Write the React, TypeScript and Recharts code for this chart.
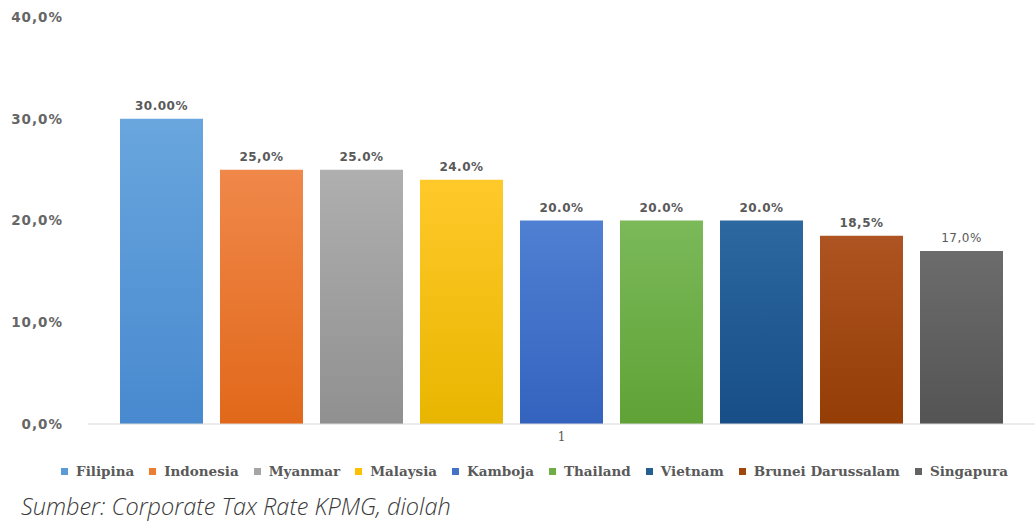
import React from 'react';
import { BarChart, Bar, XAxis, YAxis, Legend, LabelList } from 'recharts';

const categories = ['1'];
const countries = ['Filipina', 'Indonesia', 'Myanmar', 'Malaysia', 'Kamboja', 'Thailand', 'Vietnam', 'Brunei Darussalam', 'Singapura'];
const rates = [30, 25, 25, 24, 20, 20, 20, 18.5, 17];
const rateLabels = ['30.00%', '25,0%', '25.0%', '24.0%', '20.0%', '20.0%', '20.0%', '18,5%', '17,0%'];
const yTicks = [0, 10, 20, 30, 40];

const topColors = ['#69a6de', '#f0884a', '#afafaf', '#ffc92a', '#4f80d2', '#7bb959', '#2d68a0', '#ae5422', '#6c6c6c'];
const bottomColors = ['#4889cf', '#e1681a', '#909090', '#e8b600', '#3463bf', '#60a236', '#174e87', '#943d05', '#545454'];
const legendColors = ['#5b9bd5', '#ed7d31', '#a5a5a5', '#ffc000', '#4472c4', '#70ad47', '#255e91', '#9e480e', '#636363'];

const data = categories.map((name) => {
  const row: Record<string, string | number> = { name };
  countries.forEach((c, i) => {
    row[c] = rates[i];
  });
  return row;
});

const fmtTick = (v: number) => v.toFixed(1).replace('.', ',') + '%';

const renderLegend = () => (
  <div
    style={{
      height: 36,
      boxSizing: 'border-box',
      paddingTop: 7,
      paddingLeft: 34,
      display: 'flex',
      justifyContent: 'center',
      alignItems: 'flex-start',
      whiteSpace: 'nowrap',
    }}
  >
    {countries.map((c, i) => (
      <span key={c} style={{ display: 'inline-flex', alignItems: 'center', marginRight: i === countries.length - 1 ? 0 : 15 }}>
        <span style={{ display: 'inline-block', width: 7, height: 7, background: legendColors[i], marginRight: 8 }} />
        <span
          style={{
            color: '#595959',
            fontFamily: 'DejaVu Serif',
            fontWeight: 'bold',
            fontSize: 13.5,
            letterSpacing: 0,
            lineHeight: '20px',
          }}
        >
          {c}
        </span>
      </span>
    ))}
  </div>
);

export default function App() {
  return (
    <div style={{ position: 'absolute', left: 0, top: 0, width: 1035, height: 524, background: '#ffffff', overflow: 'hidden' }}>
      <BarChart
        width={1035}
        height={490}
        data={data}
        margin={{ top: 17, right: 0, left: 0, bottom: 0 }}
        barSize={83}
        barGap={17}
      >
        <defs>
          {countries.map((c, i) => (
            <linearGradient key={c} id={`grad${i}`} x1="0" y1="0" x2="0" y2="1">
              <stop offset="0%" stopColor={topColors[i]} />
              <stop offset="100%" stopColor={bottomColors[i]} />
            </linearGradient>
          ))}
        </defs>
        <XAxis
          dataKey="name"
          height={30}
          tickLine={false}
          axisLine={{ stroke: '#d9d9d9' }}
          tick={{ fill: '#595959', fontSize: 12, fontFamily: 'DejaVu Serif' }}
        />
        <YAxis
          width={88}
          domain={[0, 40]}
          ticks={yTicks}
          tickFormatter={fmtTick}
          axisLine={false}
          tickLine={false}
          tickMargin={19}
          tick={{ fill: '#666666', fontSize: 13.5, fontWeight: 'bold', fontFamily: 'DejaVu Sans', letterSpacing: 1 }}
        />
        <Legend verticalAlign="bottom" height={36} content={renderLegend} />
        {countries.map((c, i) => (
          <Bar key={c} dataKey={c} fill={`url(#grad${i})`} isAnimationActive={false}>
            <LabelList
              dataKey={c}
              position="top"
              offset={9}
              formatter={() => rateLabels[i]}
              style={{
                fill: '#595959',
                fontSize: 12,
                fontWeight: i === countries.length - 1 ? 'normal' : 'bold',
                fontFamily: 'DejaVu Sans',
                letterSpacing: 0.5,
              }}
            />
          </Bar>
        ))}
      </BarChart>
      <div
        style={{
          position: 'absolute',
          left: 21,
          top: 490,
          fontFamily: 'Open Sans',
          fontStyle: 'italic',
          fontWeight: 300,
          fontSize: 23.5,
          lineHeight: 'normal',
          color: '#3a3a3a',
          whiteSpace: 'nowrap',
        }}
      >
        Sumber: Corporate Tax Rate KPMG, diolah
      </div>
    </div>
  );
}
